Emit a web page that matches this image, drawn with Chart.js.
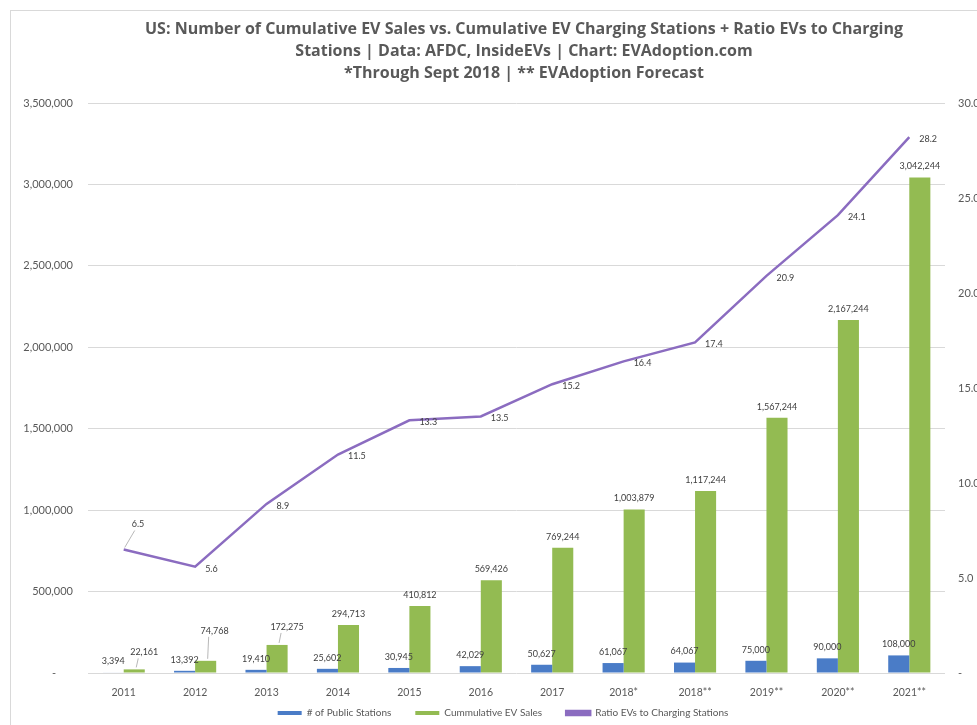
<!DOCTYPE html>
<html>
<head>
<meta charset="utf-8">
<title>US EV Sales vs Charging Stations</title>
<script src="https://cdn.jsdelivr.net/npm/chart.js@4.4.0/dist/chart.umd.min.js"></script>
<style>
    html, body { margin: 0; padding: 0; background: #fff; overflow: hidden; }
    #frame {
        position: absolute;
        left: 10px;
        top: 10px;
        width: 1026px;
        height: 736px;
        border: 1px solid #d9d9d9;
    }
</style>
</head>
<body>
<div id="frame"><canvas id="evChart"></canvas></div>
<script>
// Data
const years = ['2011', '2012', '2013', '2014', '2015', '2016', '2017', '2018*', '2018**', '2019**', '2020**', '2021**'];
const publicStations = [3394, 13392, 19410, 25602, 30945, 42029, 50627, 61067, 64067, 75000, 90000, 108000];
const cumulativeSales = [22161, 74768, 172275, 294713, 410812, 569426, 769244, 1003879, 1117244, 1567244, 2167244, 3042244];
const evsPerStation = [6.5, 5.6, 8.9, 11.5, 13.3, 13.5, 15.2, 16.4, 17.4, 20.9, 24.1, 28.2];

const titleLines = [
    'US: Number of Cumulative EV Sales vs. Cumulative EV Charging Stations + Ratio EVs to Charging',
    'Stations | Data: AFDC, InsideEVs | Chart: EVAdoption.com',
    '*Through Sept 2018 | ** EVAdoption Forecast'
];

const FONT = 'Lato, "Open Sans", sans-serif';

// Excel had dragged a few labels off their bars; nudge those and draw a leader line
const nudges = {
    '1-0': { dx: 10, dy: -6, leader: true },
    '1-1': { dx: 9, dy: -19, leader: true },
    '1-2': { dx: 10, dy: -7, leader: true },
    '2-0': { dx: -2, dy: -27, leader: true }
};

const valueLabels = {
    id: 'valueLabels',
    afterDatasetsDraw(chart) {
        const ctx = chart.ctx;
        ctx.save();
        ctx.font = '9px ' + FONT;
        ctx.fillStyle = '#404040';
        ctx.textBaseline = 'middle';
        chart.data.datasets.forEach((ds, di) => {
            const meta = chart.getDatasetMeta(di);
            meta.data.forEach((el, i) => {
                const v = ds.data[i];
                let x, y, text;
                if (ds.type === 'line') {
                    text = v.toFixed(1);
                    ctx.textAlign = 'left';
                    x = el.x + 10;
                    y = el.y + 2;
                } else {
                    text = v.toLocaleString('en-US');
                    ctx.textAlign = 'center';
                    x = el.x;
                    y = el.y - 11;
                }
                const n = nudges[di + '-' + i];
                if (n) {
                    x += n.dx;
                    y += n.dy;
                    if (n.leader) {
                        ctx.strokeStyle = '#a6a6a6';
                        ctx.lineWidth = 0.8;
                        ctx.beginPath();
                        ctx.moveTo(ds.type === 'line' ? x + 3 : x - 6, y + 6);
                        ctx.lineTo(el.x + (ds.type === 'line' ? 1 : 2), el.y - 2);
                        ctx.stroke();
                    }
                }
                ctx.fillText(text, x, y);
            });
        });
        ctx.restore();
    }
};

// legend sits a bit left of centre and tucked closer to the axis labels in the original
const legendShift = {
    id: 'legendShift',
    afterLayout(chart) {
        const lg = chart.legend;
        if (!lg) return;
        lg.left -= 21;
        lg.right -= 21;
        lg.top -= 19;
        lg.bottom -= 19;
    }
};

const ctx = document.getElementById('evChart').getContext('2d');
new Chart(ctx, {
    type: 'bar',
    data: {
        labels: years,
        datasets: [
            {
                label: '# of Public Stations',
                data: publicStations,
                backgroundColor: '#4a7cc7',
                yAxisID: 'y',
                order: 1
            },
            {
                label: 'Cummulative EV Sales',
                data: cumulativeSales,
                backgroundColor: '#93bb52',
                yAxisID: 'y',
                order: 1
            },
            {
                type: 'line',
                label: 'Ratio EVs to Charging Stations',
                data: evsPerStation,
                borderColor: '#8b6cc0',
                backgroundColor: '#8b6cc0',
                borderWidth: 2.5,
                pointRadius: 0,
                tension: 0,
                yAxisID: 'y1',
                order: 0
            }
        ]
    },
    options: {
        responsive: true,
        maintainAspectRatio: false,
        animation: false,
        layout: { padding: 0 },
        datasets: {
            bar: { categoryPercentage: 0.59, barPercentage: 1.0 }
        },
        scales: {
            x: {
                grid: { display: false },
                border: { display: false },
                ticks: {
                    color: '#595959',
                    font: { family: FONT, size: 10.5 },
                    padding: 5,
                    maxRotation: 0
                },
                afterFit: (scale) => { scale.height = 30; }
            },
            y: {
                position: 'left',
                min: 0,
                max: 3500000,
                grid: { color: '#d9d9d9', drawTicks: false },
                border: { display: false },
                ticks: {
                    stepSize: 500000,
                    color: '#595959',
                    font: { family: FONT, size: 11 },
                    padding: 15,
                    callback: (v) => v === 0 ? '-      ' : v.toLocaleString('en-US')
                },
                afterFit: (scale) => { scale.width = 77; }
            },
            y1: {
                position: 'right',
                min: 0,
                max: 30,
                grid: { display: false, drawTicks: false },
                border: { display: false },
                ticks: {
                    stepSize: 5,
                    color: '#595959',
                    font: { family: FONT, size: 11 },
                    padding: 13,
                    callback: (v) => v === 0 ? '-' : v.toFixed(1)
                },
                afterFit: (scale) => { scale.width = 92; }
            }
        },
        plugins: {
            title: {
                display: true,
                text: titleLines,
                color: '#595959',
                font: { family: '"Open Sans", sans-serif', size: 16, weight: 'bold', lineHeight: 1.375 },
                padding: { top: 7, bottom: 19 }
            },
            legend: {
                position: 'bottom',
                labels: {
                    boxWidth: 24,
                    boxHeight: 4,
                    padding: 24,
                    color: '#595959',
                    font: { family: FONT, size: 10 },
                    sort: (a, b) => a.datasetIndex - b.datasetIndex
                }
            },
            tooltip: { enabled: false }
        }
    },
    plugins: [valueLabels, legendShift]
});
</script>
</body>
</html>
